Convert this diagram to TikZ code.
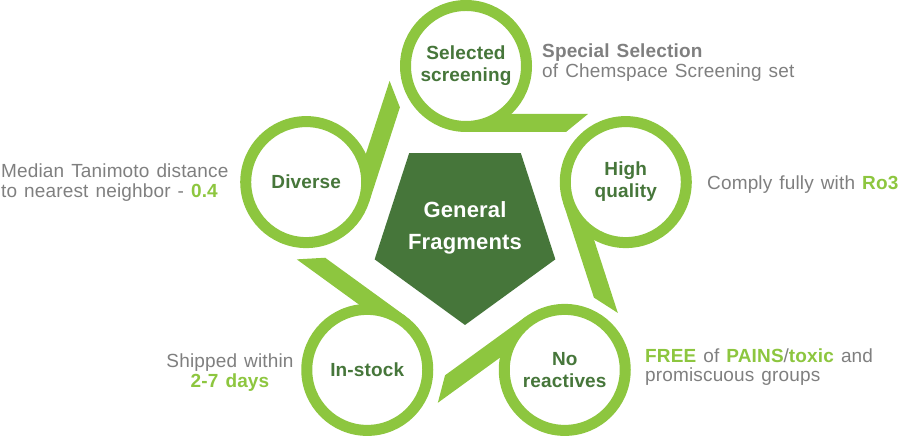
\documentclass[tikz,border=0pt]{standalone}
\usepackage{fontspec}
\setmainfont{Liberation Sans}[LetterSpace=0.8,WordSpace=1.3]
\usetikzlibrary{calc,shapes.geometric}
\definecolor{leaf}{HTML}{8DC63F}
\definecolor{forest}{HTML}{46763A}
\definecolor{ash}{HTML}{7F7F7F}
\newcommand{\good}[1]{\textcolor{leaf}{\bfseries #1}}
\def\ringdist{168}
\def\ringrad{66}

\begin{document}
\begin{tikzpicture}[x=1pt,y=1pt]
    \tikzstyle{tailband}=[fill=leaf]
    \tikzstyle{ring}=[circle,draw=leaf,line width=11pt,fill=white,minimum size=121pt,inner sep=0pt,align=center,text=forest,font=\fontsize{19}{22}\selectfont\bfseries]
    \tikzstyle{core}=[regular polygon,regular polygon sides=5,shape border rotate=180,fill=forest,minimum size=190pt,inner sep=0pt]
    \tikzstyle{coretext}=[align=center,text=white,font=\fontsize{22}{32}\selectfont\bfseries]
    \tikzstyle{note}=[anchor=base west,inner sep=0pt,text=ash,font=\fontsize{19}{20}\selectfont]
    \tikzstyle{boldnote}=[note,font=\fontsize{19}{20}\selectfont\bfseries]

    \useasboundingbox (0,0) rectangle (900,438);

    % Pentagon in the middle
    \node[core] (core) at (465,208) {};
    \node[coretext] (coretext) at ([yshift=2pt]core.center) {General\\Fragments};

    % The rings sit round this point
    \coordinate (hub) at (466,204);

    % Tails first, so the rings cover their roots
    \foreach \a/\name in {90/sel,18/hq,-54/nr,-126/stock,162/div} {
        \coordinate (\name) at ($(hub)+(\a:\ringdist)$);
        \fill[tailband] ($(\name)+(\a+180:\ringrad)$) -- ++(\a-90:100)
            -- ($(\name)+(\a+180:48)+(\a-90:122)$) -- ($(\name)+(\a+180:48)$) -- cycle;
    }

    % The five rings
    \node[ring] (sel-r) at (sel) {Selected\\screening};
    \node[ring] (hq-r) at (hq) {High\\quality};
    \node[ring] (nr-r) at (nr) {No\\reactives};
    \node[ring] (stock-r) at (stock) {In-stock};
    \node[ring] (div-r) at (div) {Diverse};

    % Notes beside the rings
    \node[boldnote] (sel-n1) at (542,380) {Special Selection};
    \node[note] (sel-n2) at (542,360) {of Chemspace Screening set};
    \node[note] (hq-n) at (707,248) {Comply fully with \good{Ro3}};
    \node[note] (nr-n1) at (645,75) {\good{FREE} of \good{PAINS}/\good{toxic} and};
    \node[note] (nr-n2) at (645,56) {promiscuous groups};
    \node[note,anchor=base] (stock-n1) at (230,70) {Shipped within};
    \node[note,anchor=base] (stock-n2) at (230,50) {\good{2-7 days}};
    \node[note] (div-n1) at (1,260) {Median Tanimoto distance};
    \node[note] (div-n2) at (1,240) {to nearest neighbor - \good{0.4}};

\end{tikzpicture}
\end{document}
